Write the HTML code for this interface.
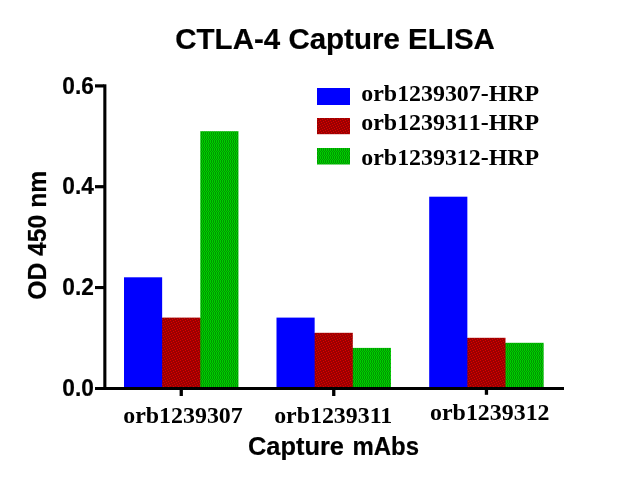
<!DOCTYPE html>
<html>
<head>
<meta charset="utf-8">
<title>CTLA-4 Capture ELISA</title>
<style>
html,body{margin:0;padding:0;background:#fff;}
body{width:634px;height:483px;overflow:hidden;position:relative;}
svg{position:absolute;left:0;top:0;display:block;}
.sans{font-family:"Liberation Sans",Arial,Helvetica,sans-serif;font-weight:bold;fill:#000;stroke:#000;stroke-width:0.2px;stroke-linejoin:round;}
.serif{font-family:"Liberation Serif","Times New Roman",Times,serif;font-weight:bold;fill:#000;}
</style>
</head>
<body>
<svg width="634" height="483" viewBox="0 0 634 483">
  <defs>
    <pattern id="pg" width="2" height="4" patternUnits="userSpaceOnUse">
      <rect width="2" height="4" fill="#00cc00"/>
      <rect x="1" y="0" width="1" height="3" fill="#009900"/>
      <rect x="0" y="3" width="1" height="1" fill="#009900"/>
    </pattern>
    <pattern id="pr" width="5" height="5" patternUnits="userSpaceOnUse">
      <rect width="5" height="5" fill="#9c0000"/>
      <rect x="0" y="0" width="1" height="1" fill="#dc0000"/>
      <rect x="3" y="1" width="1" height="1" fill="#dc0000"/>
      <rect x="1" y="2" width="1" height="1" fill="#dc0000"/>
      <rect x="4" y="3" width="1" height="1" fill="#dc0000"/>
      <rect x="2" y="4" width="1" height="1" fill="#dc0000"/>
    </pattern>
  </defs>
  <rect width="634" height="483" fill="#ffffff"/>

  <!-- title -->
  <text class="sans" transform="translate(175.3,49.4) scale(1,1.02)" font-size="29.52">CTLA-4 Capture ELISA</text>

  <!-- bars group 1 -->
  <rect x="124.00" y="277.3" width="38.15" height="110.7" fill="#0000ff"/>
  <rect x="161.15" y="318" width="2" height="70" fill="#0000ff"/>
  <rect x="162.15" y="317.6" width="38.15" height="70.4" fill="url(#pr)"/>
  <rect x="199.30" y="318" width="2" height="70" fill="url(#pr)"/>
  <rect x="200.30" y="131.2" width="38.15" height="256.8" fill="url(#pg)"/>
  <!-- bars group 2 -->
  <rect x="276.50" y="317.6" width="38.15" height="70.4" fill="#0000ff"/>
  <rect x="313.65" y="333" width="2" height="55" fill="#0000ff"/>
  <rect x="314.65" y="332.8" width="38.15" height="55.2" fill="url(#pr)"/>
  <rect x="351.80" y="348" width="2" height="40" fill="url(#pr)"/>
  <rect x="352.80" y="347.9" width="38.15" height="40.1" fill="url(#pg)"/>
  <!-- bars group 3 -->
  <rect x="429.20" y="196.7" width="38.15" height="191.3" fill="#0000ff"/>
  <rect x="466.35" y="338" width="2" height="50" fill="#0000ff"/>
  <rect x="467.35" y="337.8" width="38.15" height="50.2" fill="url(#pr)"/>
  <rect x="504.50" y="343" width="2" height="45" fill="url(#pr)"/>
  <rect x="505.50" y="342.8" width="38.15" height="45.2" fill="url(#pg)"/>
  <!-- axes -->
  <rect x="103.3" y="84.3" width="3.1" height="305.7" fill="#000"/>
  <rect x="95" y="387" width="469" height="3" fill="#000"/>
  <!-- y ticks -->
  <rect x="95" y="84.3" width="9" height="3.2" fill="#000"/>
  <rect x="95" y="185.1" width="9" height="3.2" fill="#000"/>
  <rect x="95" y="286" width="9" height="3.1" fill="#000"/>
  <!-- x ticks -->
  <rect x="179.6" y="388" width="3.3" height="8" fill="#000"/>
  <rect x="332.1" y="388" width="3.3" height="8" fill="#000"/>
  <rect x="484.8" y="388" width="3.3" height="6.8" fill="#000"/>

  <!-- y tick labels -->
  <text class="sans" transform="translate(93.8,93.7) scale(1,1.04)" font-size="22.7" text-anchor="end">0.6</text>
  <text class="sans" transform="translate(93.8,194.2) scale(1,1.04)" font-size="22.7" text-anchor="end">0.4</text>
  <text class="sans" transform="translate(93.8,295.3) scale(1,1.04)" font-size="22.7" text-anchor="end">0.2</text>
  <text class="sans" transform="translate(93.8,396.1) scale(1,1.04)" font-size="22.7" text-anchor="end">0.0</text>

  <!-- y axis label -->
  <text class="sans" font-size="24.7" text-anchor="middle" transform="translate(45.9,235.3) rotate(-90) scale(1,1.04)">OD 450 nm</text>

  <!-- x labels -->
  <text class="serif" x="183" y="423.3" font-size="23.9" text-anchor="middle">orb1239307</text>
  <text class="serif" x="333.2" y="423.3" font-size="23.9" text-anchor="middle">orb1239311</text>
  <text class="serif" x="489.8" y="420.4" font-size="23.9" text-anchor="middle">orb1239312</text>

  <!-- x axis label -->
  <text class="sans" transform="translate(248,454.8) scale(1,1.03)" font-size="25.4">Capture <tspan x="104.5" textLength="66.5" lengthAdjust="spacingAndGlyphs">mAbs</tspan></text>

  <!-- legend -->
  <rect x="317" y="88" width="33" height="17" fill="#0000ff"/>
  <rect x="317" y="118" width="33" height="16.2" fill="url(#pr)"/>
  <rect x="317" y="148" width="33" height="16.5" fill="url(#pg)"/>
  <text class="serif" x="361.3" y="100.8" font-size="23.9">orb1239307-HRP</text>
  <text class="serif" x="361.3" y="130.4" style="font-kerning:none" font-size="23.9">orb1239311-HRP</text>
  <text class="serif" x="361.3" y="165.1" font-size="23.9">orb1239312-HRP</text>
</svg>
</body>
</html>
